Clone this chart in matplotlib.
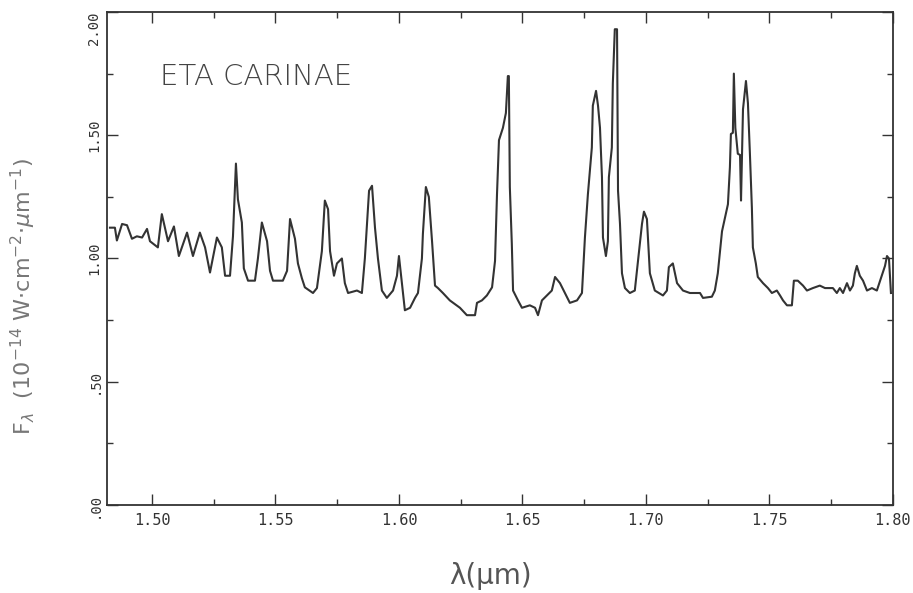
import matplotlib
matplotlib.use('Agg')
import matplotlib.pyplot as plt
from matplotlib.ticker import MultipleLocator

# traced spectrum of Eta Carinae (wavelength in micron, flux in 1e-14 W cm-2 um-1)
wavelength = [
    1.4830, 1.4850, 1.4858, 1.4879, 1.4899, 1.4919, 1.4939, 1.4960, 1.4980, 1.4992,
    1.5024, 1.5040, 1.5065, 1.5089, 1.5109, 1.5142, 1.5166, 1.5194, 1.5215, 1.5235,
    1.5263, 1.5283, 1.5296, 1.5316, 1.5328, 1.5340, 1.5348, 1.5364, 1.5372, 1.5389,
    1.5417, 1.5429, 1.5445, 1.5466, 1.5478, 1.5490, 1.5530, 1.5547, 1.5559, 1.5579,
    1.5591, 1.5607, 1.5619, 1.5652, 1.5668, 1.5688, 1.5700, 1.5713, 1.5721, 1.5737,
    1.5749, 1.5769, 1.5781, 1.5794, 1.5830, 1.5850, 1.5862, 1.5879, 1.5891, 1.5903,
    1.5915, 1.5931, 1.5951, 1.5976, 1.5992, 1.6000, 1.6012, 1.6024, 1.6045, 1.6065,
    1.6077, 1.6093, 1.6097, 1.6109, 1.6121, 1.6134, 1.6146, 1.6158, 1.6178, 1.6206,
    1.6247, 1.6275, 1.6308, 1.6316, 1.6336, 1.6356, 1.6377, 1.6389, 1.6397, 1.6405,
    1.6421, 1.6433, 1.6441, 1.6445, 1.6449, 1.6457, 1.6462, 1.6482, 1.6498, 1.6530,
    1.6551, 1.6563, 1.6579, 1.6599, 1.6619, 1.6632, 1.6652, 1.6672, 1.6692, 1.6721,
    1.6741, 1.6753, 1.6765, 1.6781, 1.6785, 1.6798, 1.6806, 1.6814, 1.6822, 1.6826,
    1.6838, 1.6846, 1.6850, 1.6862, 1.6866, 1.6874, 1.6883, 1.6887, 1.6895, 1.6903,
    1.6915, 1.6935, 1.6955, 1.6968, 1.6984, 1.6992, 1.7004, 1.7016, 1.7036, 1.7069,
    1.7085, 1.7093, 1.7109, 1.7126, 1.7150, 1.7178, 1.7219, 1.7231, 1.7267, 1.7279,
    1.7291, 1.7300, 1.7308, 1.7320, 1.7332, 1.7340, 1.7344, 1.7352, 1.7356, 1.7362,
    1.7372, 1.7381, 1.7385, 1.7389, 1.7393, 1.7405, 1.7413, 1.7421, 1.7429, 1.7433,
    1.7445, 1.7453, 1.7474, 1.7494, 1.7510, 1.7530, 1.7543, 1.7555, 1.7571, 1.7591,
    1.7599, 1.7615, 1.7636, 1.7652, 1.7676, 1.7704, 1.7725, 1.7757, 1.7773, 1.7785,
    1.7798, 1.7814, 1.7826, 1.7838, 1.7846, 1.7854, 1.7866, 1.7879, 1.7895, 1.7915,
    1.7935, 1.7955, 1.7968, 1.7976, 1.7984, 1.7992,
]
flux = [
    1.125, 1.125, 1.073, 1.140, 1.135, 1.080, 1.090, 1.085, 1.120, 1.070,
    1.045, 1.180, 1.070, 1.130, 1.010, 1.105, 1.010, 1.105, 1.045, 0.943,
    1.085, 1.045, 0.930, 0.930, 1.090, 1.385, 1.240, 1.146, 0.960, 0.910,
    0.910, 1.000, 1.146, 1.070, 0.950, 0.910, 0.910, 0.950, 1.160, 1.080,
    0.980, 0.920, 0.883, 0.860, 0.880, 1.030, 1.235, 1.200, 1.030, 0.930,
    0.980, 1.000, 0.900, 0.860, 0.870, 0.860, 1.000, 1.275, 1.295, 1.125,
    1.000, 0.870, 0.840, 0.870, 0.930, 1.010, 0.900, 0.790, 0.800, 0.840,
    0.860, 1.000, 1.100, 1.290, 1.250, 1.070, 0.890, 0.880, 0.860, 0.830,
    0.800, 0.770, 0.770, 0.820, 0.830, 0.850, 0.883, 0.990, 1.260, 1.480,
    1.530, 1.590, 1.740, 1.740, 1.290, 1.060, 0.870, 0.830, 0.800, 0.810,
    0.800, 0.770, 0.830, 0.850, 0.870, 0.925, 0.900, 0.860, 0.820, 0.830,
    0.860, 1.085, 1.260, 1.450, 1.620, 1.680, 1.620, 1.530, 1.330, 1.085,
    1.010, 1.070, 1.330, 1.450, 1.710, 1.930, 1.930, 1.275, 1.140, 0.940,
    0.880, 0.860, 0.870, 0.990, 1.140, 1.190, 1.160, 0.940, 0.870, 0.850,
    0.870, 0.965, 0.980, 0.900, 0.870, 0.860, 0.860, 0.840, 0.845, 0.870,
    0.940, 1.030, 1.110, 1.165, 1.220, 1.370, 1.505, 1.510, 1.750, 1.530,
    1.425, 1.420, 1.235, 1.425, 1.605, 1.720, 1.630, 1.425, 1.205, 1.045,
    0.980, 0.925, 0.900, 0.880, 0.860, 0.870, 0.850, 0.830, 0.810, 0.810,
    0.910, 0.910, 0.890, 0.870, 0.880, 0.890, 0.880, 0.880, 0.860, 0.880,
    0.860, 0.900, 0.870, 0.890, 0.940, 0.970, 0.930, 0.910, 0.870, 0.880,
    0.870, 0.930, 0.970, 1.010, 1.000, 0.860,
]

x_ticks = [1.50, 1.55, 1.60, 1.65, 1.70, 1.75, 1.80]
x_tick_labels = ['1.50', '1.55', '1.60', '1.65', '1.70', '1.75', '1.80']
y_ticks = [0.0, 0.5, 1.0, 1.5, 2.0]
y_tick_labels = ['.00', '.50', '1.00', '1.50', '2.00']

fig = plt.figure(figsize=(9.13, 5.93), dpi=100)
ax = fig.add_axes([0.1172, 0.1484, 0.8608, 0.8314])

ax.plot(wavelength, flux, color='#333333', linewidth=1.5)

ax.set_xlim(1.4818, 1.80)
ax.set_ylim(0.0, 2.0)

ax.set_xticks(x_ticks)
ax.set_xticklabels(x_tick_labels, family='DejaVu Sans Mono', fontsize=11, color='#333333')
ax.set_yticks(y_ticks)
ax.set_yticklabels(y_tick_labels, family='DejaVu Sans Mono', fontsize=10, color='#333333',
                   rotation=90, va='center')
ax.get_yticklabels()[-1].set_va('top')
ax.xaxis.set_minor_locator(MultipleLocator(0.025))
ax.yaxis.set_minor_locator(MultipleLocator(0.25))
ax.tick_params(which='both', direction='in', top=True, right=True, color='#333333')
ax.tick_params(which='major', length=8, width=1.0)
ax.tick_params(axis='x', which='major', pad=6)
ax.tick_params(axis='y', which='major', pad=4)
ax.tick_params(which='minor', length=4, width=1.0)
for s in ax.spines.values():
    s.set_color('#333333')
    s.set_linewidth(1.3)

ax.text(0.0674, 0.852, 'ETA CARINAE', transform=ax.transAxes, fontsize=21,
        family='DejaVu Sans', fontweight='light', color='#444444', va='baseline')

fig.text(0.026, 0.50,
         r'F$_\lambda$  (10$^{-14}$ W$\cdot$cm$^{-2}$$\cdot\mu$m$^{-1}$)',
         fontsize=16, color='#777777', rotation=90, ha='center', va='center')
fig.text(0.537, 0.028, 'λ(μm)', fontsize=20, color='#555555',
         ha='center', va='center')

fig.savefig('out.png', dpi=100)
